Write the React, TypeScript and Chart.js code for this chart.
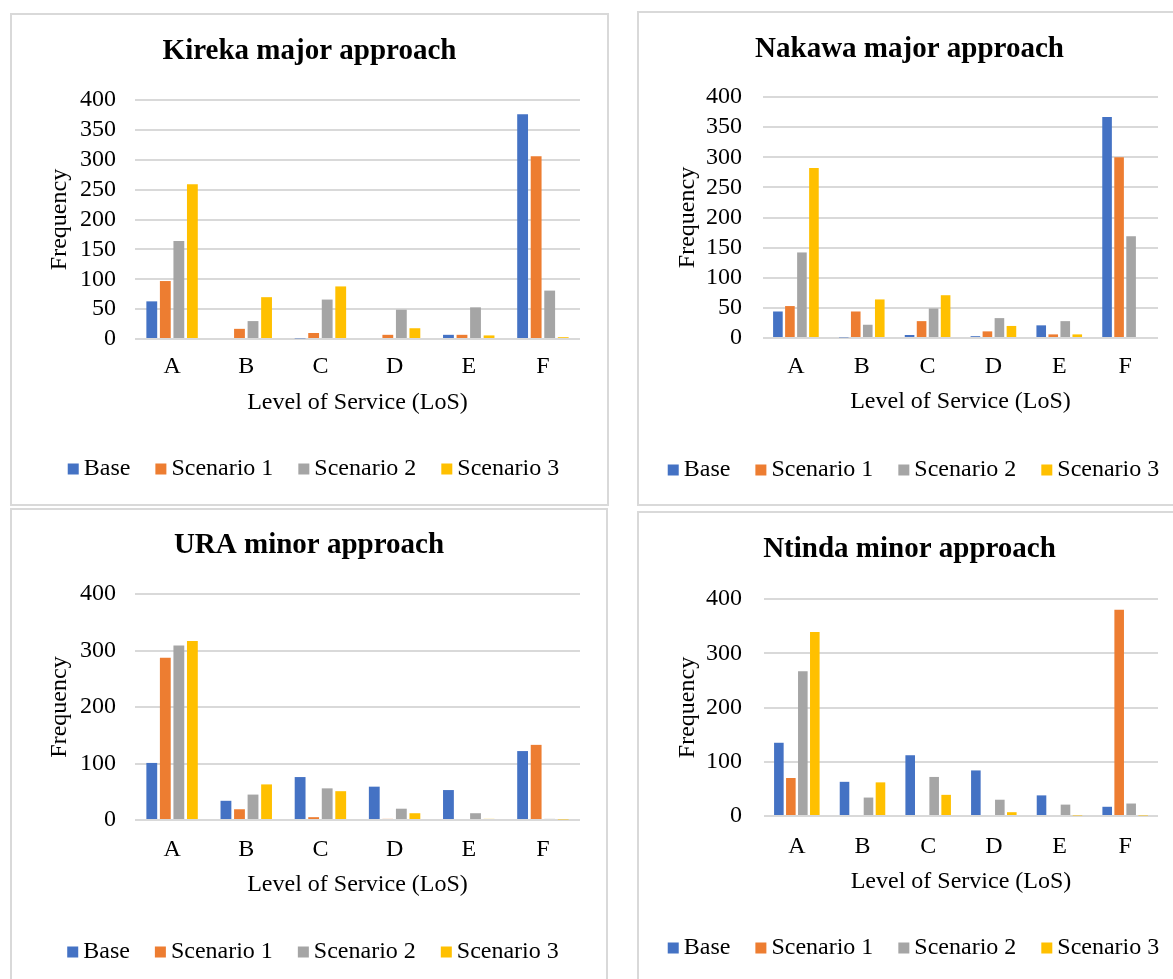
import React, { useEffect, useRef } from 'react';
import { Chart, registerables } from 'chart.js';

Chart.register(...registerables);
const FAMILY = "'Liberation Serif', 'Times New Roman', serif";
Chart.defaults.font.family = FAMILY;
Chart.defaults.color = '#000';

// Level-of-service classes on the x axis
const categories = ['A', 'B', 'C', 'D', 'E', 'F'];
const seriesNames = ['Base', 'Scenario 1', 'Scenario 2', 'Scenario 3'];
const seriesColors = ['#4472C4', '#ED7D31', '#A5A5A5', '#FFC000'];

// Kireka major approach
const kirekaBase = [63, 0, 1, 0, 7, 376];
const kirekaS1 = [97, 17, 10, 7, 7, 306];
const kirekaS2 = [164, 30, 66, 49, 53, 81];
const kirekaS3 = [259, 70, 88, 18, 6, 3];

// Nakawa major approach
const nakawaBase = [44, 1, 5, 3, 21, 367];
const nakawaS1 = [53, 44, 28, 11, 6, 300];
const nakawaS2 = [142, 22, 49, 33, 28, 169];
const nakawaS3 = [282, 64, 71, 20, 6, 0];

// URA minor approach
const uraBase = [101, 34, 76, 59, 53, 122];
const uraS1 = [287, 19, 5, 2, 0, 133];
const uraS2 = [309, 45, 56, 20, 12, 2];
const uraS3 = [317, 63, 51, 12, 2, 1];

// Ntinda minor approach
const ntindaBase = [135, 63, 112, 84, 38, 17];
const ntindaS1 = [70, 0, 0, 0, 0, 380];
const ntindaS2 = [267, 34, 72, 30, 21, 23];
const ntindaS3 = [339, 62, 39, 7, 1, 1];

const yTicksMajor = { min: 0, max: 400, step: 50 };
const yTicksMinor = { min: 0, max: 400, step: 100 };

type Layout = {
  x: number; y: number; w: number; h: number;
  areaL: number; areaR: number; areaT: number; areaB: number;
  titleY: number; tickRight: number; yTitleX: number;
  xLabelY: number; xTitleY: number; legendY: number;
};

type PanelProps = {
  title: string;
  series: number[][];
  ticks: { min: number; max: number; step: number };
  layout: Layout;
};

const TEXT = 24;
const TITLE = 29;
const LH = 1.2;

// Legend drawn as one centred row: small square, short gap, label, wider gap
const legendRow = (legendY: number) => ({
  id: 'legendRow',
  afterDraw(chart: any) {
    const ctx = chart.ctx as CanvasRenderingContext2D;
    const box = 11;
    const gap = 5;
    const itemGap = 25;
    ctx.save();
    ctx.font = `${TEXT}px ${FAMILY}`;
    ctx.textBaseline = 'middle';
    ctx.textAlign = 'left';
    const items = chart.data.datasets.map((d: any) => ({
      text: d.label as string,
      color: d.backgroundColor as string,
      tw: ctx.measureText(d.label).width,
    }));
    const total = items.reduce((s: number, it: any) => s + box + gap + it.tw, 0) + itemGap * (items.length - 1);
    let x = chart.width / 2 + 4 - total / 2;
    for (const it of items) {
      ctx.fillStyle = it.color;
      ctx.fillRect(x, legendY - box / 2 + 1, box, box);
      x += box + gap;
      ctx.fillStyle = '#000';
      ctx.fillText(it.text, x, legendY + 1);
      x += it.tw + itemGap;
    }
    ctx.restore();
  },
});

function Panel({ title, series, ticks, layout: L }: PanelProps) {
  const ref = useRef<HTMLCanvasElement>(null);

  useEffect(() => {
    if (!ref.current) return;
    const areaL = L.areaL - L.x;
    const areaR = L.areaR - L.x;
    const areaT = L.areaT - L.y;
    const areaB = L.areaB - L.y;
    const titleY = L.titleY - L.y;
    const xLabelY = L.xLabelY - L.y;
    const xTitleY = L.xTitleY - L.y;
    const legendY = L.legendY - L.y;
    const legendTop = legendY - 22;
    const padB = L.h - legendTop;
    const half = (TEXT * LH) / 2;
    const halfTitle = (TITLE * LH) / 2;
    const font = { size: TEXT };

    const chart = new Chart(ref.current, {
      type: 'bar',
      data: {
        labels: categories,
        datasets: series.map((values, i) => ({
          label: seriesNames[i],
          data: values,
          backgroundColor: seriesColors[i],
          borderWidth: 0,
          categoryPercentage: 0.73,
          barPercentage: 0.8,
        })),
      },
      options: {
        responsive: false,
        animation: false,
        layout: { padding: { top: 0, left: 0, right: 0, bottom: padB } },
        plugins: {
          title: {
            display: true,
            text: title,
            color: '#000',
            font: { size: TITLE, weight: 'bold' },
            padding: { top: titleY - halfTitle, bottom: areaT - titleY - halfTitle },
          },
          legend: { display: false },
          tooltip: { enabled: false },
        },
        scales: {
          x: {
            grid: { display: false, drawTicks: false },
            border: { display: false },
            ticks: { font, color: '#000', padding: xLabelY - areaB - half },
            title: {
              display: true,
              text: 'Level of Service (LoS)',
              color: '#000',
              font,
              padding: { top: 0, bottom: legendTop - xTitleY - half },
            },
            afterFit: (s: any) => { s.height = legendTop - areaB; },
          },
          y: {
            min: ticks.min,
            max: ticks.max,
            ticks: {
              stepSize: ticks.step,
              autoSkip: false,
              maxTicksLimit: 20,
              font,
              color: '#000',
              padding: areaL - (L.tickRight - L.x),
            },
            grid: { color: '#d9d9d9', lineWidth: 2, drawTicks: false },
            border: { display: false },
            title: {
              display: true,
              text: 'Frequency',
              color: '#000',
              font,
              padding: { top: L.yTitleX - L.x - half, bottom: 0 },
            },
            afterFit: (s: any) => { s.width = areaL; },
          },
          // empty right-hand gutter so the title centres on the whole panel
          gutter: {
            type: 'linear',
            position: 'right',
            grid: { display: false, drawTicks: false },
            border: { display: false },
            ticks: { display: false },
            afterFit: (s: any) => { s.width = L.w - areaR; },
          },
        },
      } as any,
      plugins: [legendRow(legendY)],
    });
    return () => chart.destroy();
  }, []);

  return (
    <div style={{ position: 'absolute', left: L.x, top: L.y, width: L.w, height: L.h }}>
      <canvas ref={ref} width={L.w} height={L.h} style={{ display: 'block', width: L.w, height: L.h }} />
      <div
        style={{
          position: 'absolute', left: 0, top: 0, width: L.w, height: L.h,
          border: '2px solid #d9d9d9', boxSizing: 'border-box', pointerEvents: 'none',
        }}
      />
    </div>
  );
}

const layoutKireka: Layout = {
  x: 10, y: 13, w: 599, h: 493,
  areaL: 135, areaR: 580, areaT: 100, areaB: 339,
  titleY: 52, tickRight: 116, yTitleX: 60, xLabelY: 367, xTitleY: 403, legendY: 468,
};
const layoutNakawa: Layout = {
  x: 637, y: 11, w: 545, h: 495,
  areaL: 763, areaR: 1158, areaT: 97, areaB: 338,
  titleY: 50, tickRight: 742, yTitleX: 688, xLabelY: 367, xTitleY: 402, legendY: 469,
};
const layoutUra: Layout = {
  x: 10, y: 508, w: 598, h: 480,
  areaL: 135, areaR: 580, areaT: 594, areaB: 820,
  titleY: 546, tickRight: 116, yTitleX: 60, xLabelY: 850, xTitleY: 885, legendY: 951,
};
const layoutNtinda: Layout = {
  x: 637, y: 511, w: 545, h: 480,
  areaL: 764, areaR: 1158, areaT: 599, areaB: 816,
  titleY: 550, tickRight: 742, yTitleX: 688, xLabelY: 847, xTitleY: 882, legendY: 947,
};

export default function App() {
  return (
    <div style={{ position: 'absolute', left: 0, top: 0, width: 1173, height: 979, overflow: 'hidden', background: '#fff' }}>
      <Panel title="Kireka major approach" series={[kirekaBase, kirekaS1, kirekaS2, kirekaS3]} ticks={yTicksMajor} layout={layoutKireka} />
      <Panel title="Nakawa major approach" series={[nakawaBase, nakawaS1, nakawaS2, nakawaS3]} ticks={yTicksMajor} layout={layoutNakawa} />
      <Panel title="URA minor approach" series={[uraBase, uraS1, uraS2, uraS3]} ticks={yTicksMinor} layout={layoutUra} />
      <Panel title="Ntinda minor approach" series={[ntindaBase, ntindaS1, ntindaS2, ntindaS3]} ticks={yTicksMinor} layout={layoutNtinda} />
    </div>
  );
}
